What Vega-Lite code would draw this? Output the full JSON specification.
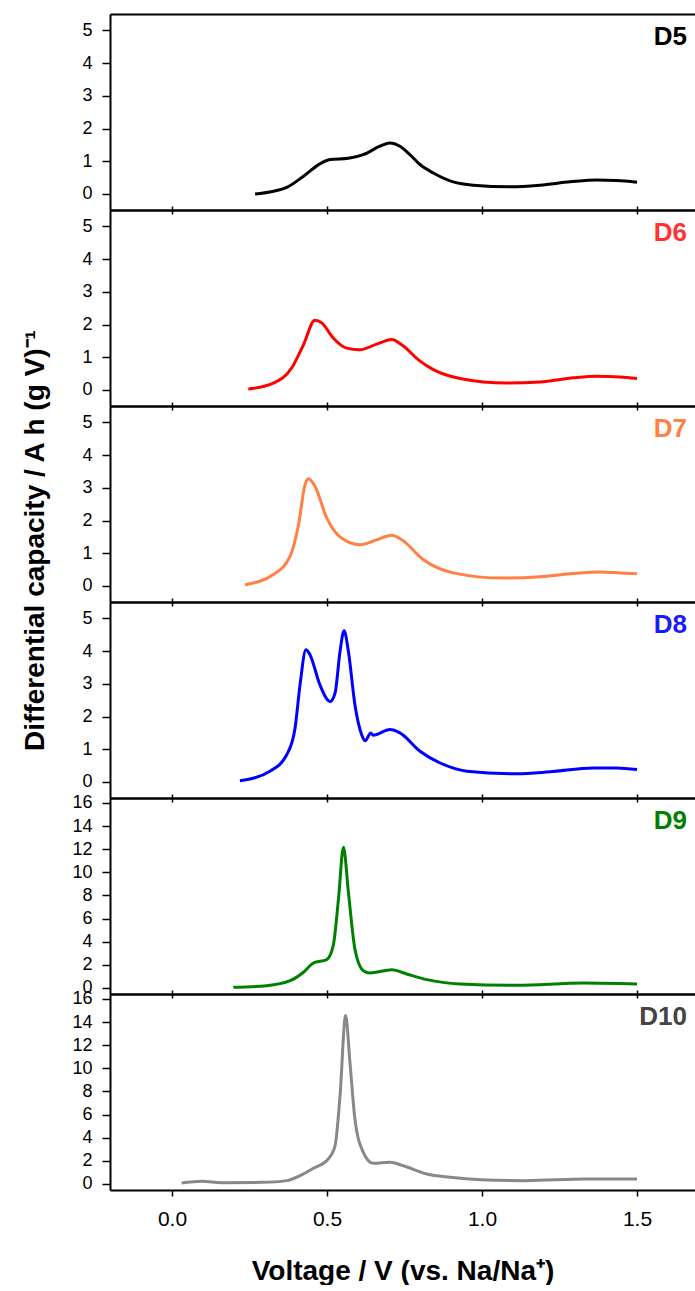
{
  "$schema": "https://vega.github.io/schema/vega-lite/v6.json",
  "padding": {"left": 21, "top": 14, "right": 0, "bottom": 0},
  "config": {
    "font": "Liberation Sans",
    "view": {"stroke": null},
    "axis": {"grid": false, "domainColor": "black", "domainWidth": 2, "tickColor": "black", "tickWidth": 1.5, "labelColor": "black", "labelFont": "Liberation Sans", "titleFont": "Liberation Sans", "titleColor": "black", "labelOverlap": false}
  },
  "title": {"text": "Differential capacity / A h (g V)⁻¹", "orient": "left", "anchor": "middle", "fontSize": 28, "fontWeight": "bold", "offset": 22, "dx": 109, "color": "black", "font": "Liberation Sans"},
  "spacing": 0,
  "bounds": "flush",
  "datasets": {
    "curves": [
      {"s": "D5", "v": 0.268, "dq": 0.0}, {"s": "D5", "v": 0.32, "dq": 0.07}, {"s": "D5", "v": 0.37, "dq": 0.2}, {"s": "D5", "v": 0.424, "dq": 0.54}, {"s": "D5", "v": 0.477, "dq": 0.92}, {"s": "D5", "v": 0.51, "dq": 1.05}, {"s": "D5", "v": 0.569, "dq": 1.09}, {"s": "D5", "v": 0.617, "dq": 1.2}, {"s": "D5", "v": 0.671, "dq": 1.46}, {"s": "D5", "v": 0.703, "dq": 1.56}, {"s": "D5", "v": 0.735, "dq": 1.46}, {"s": "D5", "v": 0.77, "dq": 1.18}, {"s": "D5", "v": 0.8, "dq": 0.9}, {"s": "D5", "v": 0.843, "dq": 0.64}, {"s": "D5", "v": 0.907, "dq": 0.37}, {"s": "D5", "v": 0.972, "dq": 0.27}, {"s": "D5", "v": 1.09, "dq": 0.22}, {"s": "D5", "v": 1.187, "dq": 0.27}, {"s": "D5", "v": 1.284, "dq": 0.37}, {"s": "D5", "v": 1.37, "dq": 0.43}, {"s": "D5", "v": 1.435, "dq": 0.41}, {"s": "D5", "v": 1.5, "dq": 0.36},
      {"s": "D6", "v": 0.246, "dq": 0.03}, {"s": "D6", "v": 0.327, "dq": 0.21}, {"s": "D6", "v": 0.386, "dq": 0.67}, {"s": "D6", "v": 0.424, "dq": 1.38}, {"s": "D6", "v": 0.461, "dq": 2.13}, {"s": "D6", "v": 0.483, "dq": 2.05}, {"s": "D6", "v": 0.52, "dq": 1.59}, {"s": "D6", "v": 0.563, "dq": 1.28}, {"s": "D6", "v": 0.606, "dq": 1.23}, {"s": "D6", "v": 0.66, "dq": 1.4}, {"s": "D6", "v": 0.709, "dq": 1.54}, {"s": "D6", "v": 0.741, "dq": 1.38}, {"s": "D6", "v": 0.8, "dq": 0.88}, {"s": "D6", "v": 0.843, "dq": 0.62}, {"s": "D6", "v": 0.929, "dq": 0.35}, {"s": "D6", "v": 1.08, "dq": 0.21}, {"s": "D6", "v": 1.187, "dq": 0.24}, {"s": "D6", "v": 1.295, "dq": 0.37}, {"s": "D6", "v": 1.37, "dq": 0.42}, {"s": "D6", "v": 1.445, "dq": 0.4}, {"s": "D6", "v": 1.5, "dq": 0.35},
      {"s": "D7", "v": 0.235, "dq": 0.04}, {"s": "D7", "v": 0.327, "dq": 0.35}, {"s": "D7", "v": 0.381, "dq": 0.91}, {"s": "D7", "v": 0.408, "dq": 1.87}, {"s": "D7", "v": 0.429, "dq": 3.09}, {"s": "D7", "v": 0.44, "dq": 3.28}, {"s": "D7", "v": 0.461, "dq": 3.05}, {"s": "D7", "v": 0.499, "dq": 2.08}, {"s": "D7", "v": 0.542, "dq": 1.5}, {"s": "D7", "v": 0.606, "dq": 1.26}, {"s": "D7", "v": 0.66, "dq": 1.41}, {"s": "D7", "v": 0.709, "dq": 1.55}, {"s": "D7", "v": 0.741, "dq": 1.41}, {"s": "D7", "v": 0.811, "dq": 0.8}, {"s": "D7", "v": 0.907, "dq": 0.4}, {"s": "D7", "v": 1.069, "dq": 0.24}, {"s": "D7", "v": 1.187, "dq": 0.28}, {"s": "D7", "v": 1.284, "dq": 0.37}, {"s": "D7", "v": 1.381, "dq": 0.43}, {"s": "D7", "v": 1.445, "dq": 0.4}, {"s": "D7", "v": 1.5, "dq": 0.37},
      {"s": "D8", "v": 0.219, "dq": 0.04}, {"s": "D8", "v": 0.316, "dq": 0.33}, {"s": "D8", "v": 0.37, "dq": 0.83}, {"s": "D8", "v": 0.397, "dq": 1.65}, {"s": "D8", "v": 0.413, "dq": 2.97}, {"s": "D8", "v": 0.432, "dq": 4.04}, {"s": "D8", "v": 0.445, "dq": 3.89}, {"s": "D8", "v": 0.477, "dq": 2.97}, {"s": "D8", "v": 0.51, "dq": 2.46}, {"s": "D8", "v": 0.526, "dq": 2.72}, {"s": "D8", "v": 0.542, "dq": 3.99}, {"s": "D8", "v": 0.555, "dq": 4.62}, {"s": "D8", "v": 0.569, "dq": 3.99}, {"s": "D8", "v": 0.59, "dq": 2.36}, {"s": "D8", "v": 0.612, "dq": 1.44}, {"s": "D8", "v": 0.623, "dq": 1.26}, {"s": "D8", "v": 0.641, "dq": 1.5}, {"s": "D8", "v": 0.649, "dq": 1.43}, {"s": "D8", "v": 0.703, "dq": 1.6}, {"s": "D8", "v": 0.735, "dq": 1.5}, {"s": "D8", "v": 0.8, "dq": 0.94}, {"s": "D8", "v": 0.865, "dq": 0.58}, {"s": "D8", "v": 0.951, "dq": 0.33}, {"s": "D8", "v": 1.112, "dq": 0.25}, {"s": "D8", "v": 1.219, "dq": 0.31}, {"s": "D8", "v": 1.359, "dq": 0.43}, {"s": "D8", "v": 1.434, "dq": 0.43}, {"s": "D8", "v": 1.5, "dq": 0.38},
      {"s": "D9", "v": 0.198, "dq": 0.06}, {"s": "D9", "v": 0.305, "dq": 0.2}, {"s": "D9", "v": 0.381, "dq": 0.63}, {"s": "D9", "v": 0.424, "dq": 1.36}, {"s": "D9", "v": 0.456, "dq": 2.16}, {"s": "D9", "v": 0.499, "dq": 2.45}, {"s": "D9", "v": 0.52, "dq": 3.66}, {"s": "D9", "v": 0.537, "dq": 7.7}, {"s": "D9", "v": 0.553, "dq": 12.17}, {"s": "D9", "v": 0.569, "dq": 8.28}, {"s": "D9", "v": 0.59, "dq": 3.37}, {"s": "D9", "v": 0.617, "dq": 1.5}, {"s": "D9", "v": 0.639, "dq": 1.3}, {"s": "D9", "v": 0.709, "dq": 1.58}, {"s": "D9", "v": 0.757, "dq": 1.21}, {"s": "D9", "v": 0.822, "dq": 0.72}, {"s": "D9", "v": 0.929, "dq": 0.35}, {"s": "D9", "v": 1.112, "dq": 0.23}, {"s": "D9", "v": 1.327, "dq": 0.43}, {"s": "D9", "v": 1.5, "dq": 0.35},
      {"s": "D10", "v": 0.031, "dq": 0.09}, {"s": "D10", "v": 0.096, "dq": 0.23}, {"s": "D10", "v": 0.161, "dq": 0.11}, {"s": "D10", "v": 0.292, "dq": 0.14}, {"s": "D10", "v": 0.37, "dq": 0.29}, {"s": "D10", "v": 0.413, "dq": 0.72}, {"s": "D10", "v": 0.456, "dq": 1.36}, {"s": "D10", "v": 0.504, "dq": 2.16}, {"s": "D10", "v": 0.526, "dq": 3.31}, {"s": "D10", "v": 0.542, "dq": 7.64}, {"s": "D10", "v": 0.56, "dq": 14.56}, {"s": "D10", "v": 0.574, "dq": 10.52}, {"s": "D10", "v": 0.59, "dq": 5.62}, {"s": "D10", "v": 0.617, "dq": 2.74}, {"s": "D10", "v": 0.649, "dq": 1.79}, {"s": "D10", "v": 0.703, "dq": 1.88}, {"s": "D10", "v": 0.746, "dq": 1.58}, {"s": "D10", "v": 0.822, "dq": 0.86}, {"s": "D10", "v": 0.897, "dq": 0.58}, {"s": "D10", "v": 0.997, "dq": 0.37}, {"s": "D10", "v": 1.14, "dq": 0.29}, {"s": "D10", "v": 1.336, "dq": 0.43}, {"s": "D10", "v": 1.5, "dq": 0.43}
    ]
  },
  "vconcat": [
    {
      "width": 585, "height": 196,
      "layer": [
        {"data": {"name": "curves"}, "transform": [{"filter": "datum.s === 'D5'"}],
         "mark": {"type": "line", "color": "#000000", "strokeWidth": 3, "interpolate": "monotone"},
         "encoding": {
           "x": {"field": "v", "type": "quantitative", "scale": {"domain": [-0.2, 1.687], "nice": false, "zero": false}, "axis": {"orient": "bottom", "values": [0, 0.5, 1, 1.5], "labels": false, "tickSize": 4, "title": null}},
           "y": {"field": "dq", "type": "quantitative", "scale": {"domain": [-0.49, 5.5], "nice": false, "zero": false}, "axis": {"values": [0, 1, 2, 3, 4, 5], "tickSize": 8, "labelFontSize": 18, "labelPadding": 10, "title": null}}
         }},
        {"data": {"values": [{"label": "D5"}]},
         "mark": {"type": "text", "align": "right", "baseline": "middle", "fontSize": 26, "fontWeight": "bold", "color": "#000000"},
         "encoding": {
           "text": {"field": "label"},
           "x": {"datum": 1.661, "type": "quantitative", "axis": {"orient": "top", "values": [0, 0.5, 1, 1.5], "labels": false, "ticks": false, "title": null}},
           "y": {"datum": 4.81, "type": "quantitative", "axis": {"values": [0, 1, 2, 3, 4, 5], "tickSize": 8, "labelFontSize": 18, "labelPadding": 10, "title": null}}
         }}
      ],
      "resolve": {"axis": {"x": "independent"}}
    },
    {
      "width": 585, "height": 196,
      "layer": [
        {"data": {"name": "curves"}, "transform": [{"filter": "datum.s === 'D6'"}],
         "mark": {"type": "line", "color": "#ff0000", "strokeWidth": 3, "interpolate": "monotone"},
         "encoding": {
           "x": {"field": "v", "type": "quantitative", "scale": {"domain": [-0.2, 1.687], "nice": false, "zero": false}, "axis": {"orient": "bottom", "values": [0, 0.5, 1, 1.5], "labels": false, "tickSize": 4, "title": null}},
           "y": {"field": "dq", "type": "quantitative", "scale": {"domain": [-0.49, 5.5], "nice": false, "zero": false}, "axis": {"values": [0, 1, 2, 3, 4, 5], "tickSize": 8, "labelFontSize": 18, "labelPadding": 10, "title": null}}
         }},
        {"data": {"values": [{"label": "D6"}]},
         "mark": {"type": "text", "align": "right", "baseline": "middle", "fontSize": 26, "fontWeight": "bold", "color": "#ff3333"},
         "encoding": {
           "text": {"field": "label"},
           "x": {"datum": 1.661, "type": "quantitative", "axis": {"orient": "top", "values": [0, 0.5, 1, 1.5], "labels": false, "tickSize": 4, "title": null}},
           "y": {"datum": 4.81, "type": "quantitative", "axis": {"values": [0, 1, 2, 3, 4, 5], "tickSize": 8, "labelFontSize": 18, "labelPadding": 10, "title": null}}
         }}
      ],
      "resolve": {"axis": {"x": "independent"}}
    },
    {
      "width": 585, "height": 196,
      "layer": [
        {"data": {"name": "curves"}, "transform": [{"filter": "datum.s === 'D7'"}],
         "mark": {"type": "line", "color": "#ff8040", "strokeWidth": 3, "interpolate": "monotone"},
         "encoding": {
           "x": {"field": "v", "type": "quantitative", "scale": {"domain": [-0.2, 1.687], "nice": false, "zero": false}, "axis": {"orient": "bottom", "values": [0, 0.5, 1, 1.5], "labels": false, "tickSize": 4, "title": null}},
           "y": {"field": "dq", "type": "quantitative", "scale": {"domain": [-0.49, 5.5], "nice": false, "zero": false}, "axis": {"values": [0, 1, 2, 3, 4, 5], "tickSize": 8, "labelFontSize": 18, "labelPadding": 10, "title": null}}
         }},
        {"data": {"values": [{"label": "D7"}]},
         "mark": {"type": "text", "align": "right", "baseline": "middle", "fontSize": 26, "fontWeight": "bold", "color": "#ff8040"},
         "encoding": {
           "text": {"field": "label"},
           "x": {"datum": 1.661, "type": "quantitative", "axis": {"orient": "top", "values": [0, 0.5, 1, 1.5], "labels": false, "tickSize": 4, "title": null}},
           "y": {"datum": 4.81, "type": "quantitative", "axis": {"values": [0, 1, 2, 3, 4, 5], "tickSize": 8, "labelFontSize": 18, "labelPadding": 10, "title": null}}
         }}
      ],
      "resolve": {"axis": {"x": "independent"}}
    },
    {
      "width": 585, "height": 196,
      "layer": [
        {"data": {"name": "curves"}, "transform": [{"filter": "datum.s === 'D8'"}],
         "mark": {"type": "line", "color": "#0000ff", "strokeWidth": 3, "interpolate": "monotone"},
         "encoding": {
           "x": {"field": "v", "type": "quantitative", "scale": {"domain": [-0.2, 1.687], "nice": false, "zero": false}, "axis": {"orient": "bottom", "values": [0, 0.5, 1, 1.5], "labels": false, "tickSize": 4, "title": null}},
           "y": {"field": "dq", "type": "quantitative", "scale": {"domain": [-0.49, 5.5], "nice": false, "zero": false}, "axis": {"values": [0, 1, 2, 3, 4, 5], "tickSize": 8, "labelFontSize": 18, "labelPadding": 10, "title": null}}
         }},
        {"data": {"values": [{"label": "D8"}]},
         "mark": {"type": "text", "align": "right", "baseline": "middle", "fontSize": 26, "fontWeight": "bold", "color": "#1a1aff"},
         "encoding": {
           "text": {"field": "label"},
           "x": {"datum": 1.661, "type": "quantitative", "axis": {"orient": "top", "values": [0, 0.5, 1, 1.5], "labels": false, "tickSize": 4, "title": null}},
           "y": {"datum": 4.81, "type": "quantitative", "axis": {"values": [0, 1, 2, 3, 4, 5], "tickSize": 8, "labelFontSize": 18, "labelPadding": 10, "title": null}}
         }}
      ],
      "resolve": {"axis": {"x": "independent"}}
    },
    {
      "width": 585, "height": 196,
      "layer": [
        {"data": {"name": "curves"}, "transform": [{"filter": "datum.s === 'D9'"}],
         "mark": {"type": "line", "color": "#008000", "strokeWidth": 3, "interpolate": "monotone"},
         "encoding": {
           "x": {"field": "v", "type": "quantitative", "scale": {"domain": [-0.2, 1.687], "nice": false, "zero": false}, "axis": {"orient": "bottom", "values": [0, 0.5, 1, 1.5], "labels": false, "tickSize": 4, "title": null}},
           "y": {"field": "dq", "type": "quantitative", "scale": {"domain": [-0.52, 16.43], "nice": false, "zero": false}, "axis": {"values": [0, 2, 4, 6, 8, 10, 12, 14, 16], "tickSize": 8, "labelFontSize": 18, "labelPadding": 10, "title": null}}
         }},
        {"data": {"values": [{"label": "D9"}]},
         "mark": {"type": "text", "align": "right", "baseline": "middle", "fontSize": 26, "fontWeight": "bold", "color": "#008000"},
         "encoding": {
           "text": {"field": "label"},
           "x": {"datum": 1.661, "type": "quantitative", "axis": {"orient": "top", "values": [0, 0.5, 1, 1.5], "labels": false, "tickSize": 4, "title": null}},
           "y": {"datum": 14.4, "type": "quantitative", "axis": {"values": [0, 2, 4, 6, 8, 10, 12, 14, 16], "tickSize": 8, "labelFontSize": 18, "labelPadding": 10, "title": null}}
         }}
      ],
      "resolve": {"axis": {"x": "independent"}}
    },
    {
      "width": 585, "height": 196,
      "layer": [
        {"data": {"name": "curves"}, "transform": [{"filter": "datum.s === 'D10'"}],
         "mark": {"type": "line", "color": "#888888", "strokeWidth": 3, "interpolate": "monotone"},
         "encoding": {
           "x": {"field": "v", "type": "quantitative", "scale": {"domain": [-0.2, 1.687], "nice": false, "zero": false}, "axis": {"orient": "bottom", "values": [0, 0.5, 1, 1.5], "format": ".1f", "labelFontSize": 21, "labelPadding": 12, "tickSize": 6, "title": "Voltage / V (vs. Na/Na⁺)", "titleFontSize": 28, "titleFontWeight": "bold", "titlePadding": 28}},
           "y": {"field": "dq", "type": "quantitative", "scale": {"domain": [-0.52, 16.43], "nice": false, "zero": false}, "axis": {"values": [0, 2, 4, 6, 8, 10, 12, 14, 16], "tickSize": 8, "labelFontSize": 18, "labelPadding": 10, "title": null}}
         }},
        {"data": {"values": [{"label": "D10"}]},
         "mark": {"type": "text", "align": "right", "baseline": "middle", "fontSize": 26, "fontWeight": "bold", "color": "#444444"},
         "encoding": {
           "text": {"field": "label"},
           "x": {"datum": 1.661, "type": "quantitative", "axis": {"orient": "top", "values": [0, 0.5, 1, 1.5], "labels": false, "tickSize": 4, "title": null}},
           "y": {"datum": 14.4, "type": "quantitative", "axis": {"values": [0, 2, 4, 6, 8, 10, 12, 14, 16], "tickSize": 8, "labelFontSize": 18, "labelPadding": 10, "title": null}}
         }}
      ],
      "resolve": {"axis": {"x": "independent"}}
    }
  ]
}
